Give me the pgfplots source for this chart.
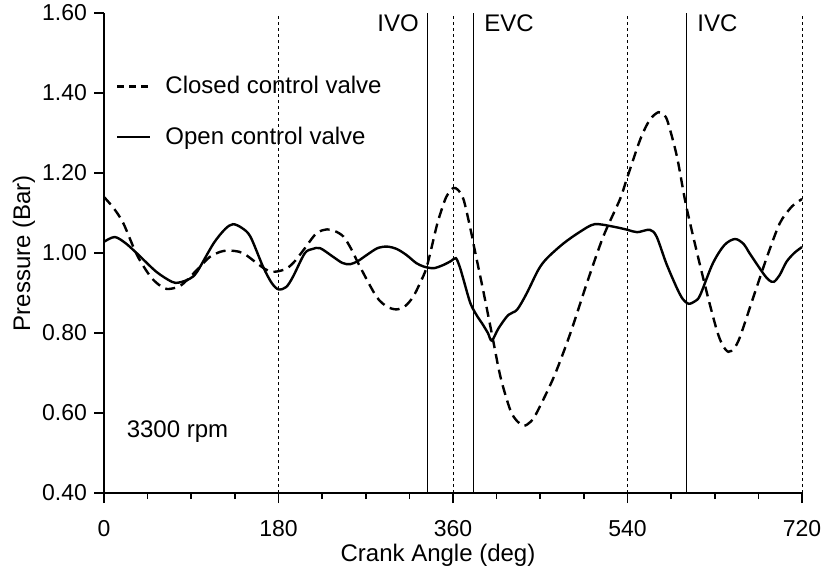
\documentclass[border=0pt]{standalone}
\usepackage{fontspec}
\setmainfont{Liberation Sans}
\usepackage{pgfplots}
\pgfplotsset{compat=1.18}
\begin{document}
\begin{tikzpicture}
\begin{axis}[
  scale only axis, width=349pt, height=240pt,
  xmin=0, xmax=720, ymin=0.4, ymax=1.6,
  axis x line*=bottom, axis y line*=left,
  axis line style={line width=0.9pt, -},
  xtick={0,180,360,540,720},
  minor xtick={45,90,135,225,270,315,405,450,495,585,630,675},
  ytick={0.4,0.6,0.8,1.0,1.2,1.4,1.6},
  tick align=outside, major tick length=5pt, minor tick length=3pt,
  every tick/.style={line width=0.8pt, black},
  /pgf/number format/assume math mode=true,
  tick label style={font=\fontsize{11.5}{13}\selectfont},
  yticklabel style={/pgf/number format/.cd, fixed, fixed zerofill, precision=2},
  xticklabel style={yshift=-5pt},
  xlabel={Crank Angle (deg)},
  ylabel={Pressure (Bar)},
  label style={font=\fontsize{12}{14}\selectfont},
  x label style={at={(axis description cs:0.4785,-0.142)}, anchor=base},
  y label style={at={(axis description cs:-0.1146,0.5)}, anchor=center},
  legend style={at={(axis description cs:0.017,0.794)}, anchor=west, draw=none, fill=none, inner sep=0pt, font=\fontsize{12}{14}\selectfont, row sep=11pt},
  legend cell align=left,
  legend image code/.code={\draw[#1] (0pt,0pt) -- (16.5pt,0pt); \path[draw=none] (0pt,0pt) -- (22pt,0pt);},
  clip=false,
]
\coordinate (sw) at (rel axis cs:0,0);
\coordinate (ne) at (rel axis cs:1,1);
% dotted TDC/BDC lines
\addplot[forget plot, black, line width=0.5pt, dash pattern=on 1.5pt off 1.5pt] coordinates {(180,0.4) (180,1.6)};
\addplot[forget plot, black, line width=0.5pt, dash pattern=on 1.5pt off 1.5pt] coordinates {(360,0.4) (360,1.6)};
\addplot[forget plot, black, line width=0.5pt, dash pattern=on 1.5pt off 1.5pt] coordinates {(540,0.4) (540,1.6)};
\addplot[forget plot, black, line width=0.5pt, dash pattern=on 1.5pt off 1.5pt] coordinates {(720,0.4) (720,1.6)};
% valve event lines
\addplot[forget plot, black, line width=0.6pt] coordinates {(334,0.4) (334,1.6)};
\addplot[forget plot, black, line width=0.6pt] coordinates {(381,0.4) (381,1.6)};
\addplot[forget plot, black, line width=0.6pt] coordinates {(601,0.4) (601,1.6)};
% closed control valve
\addplot[forget plot, black, line width=1.2pt, dash pattern=on 5pt off 3pt, smooth, tension=0.5] coordinates {
(0,1.140) (10,1.112) (20,1.074) (34,0.995) (48,0.941) (58,0.918) (65,0.910) (75,0.914) (82,0.924)
(96,0.958) (109,0.990) (120,1.003) (127,1.006) (135,1.005) (144,0.999) (158,0.974) (166,0.960)
(173,0.953) (181,0.955) (189,0.962) (197,0.980) (206,1.008) (219,1.049) (230,1.059) (238,1.055)
(247,1.041) (255,1.010) (264,0.966) (281,0.891) (292,0.866) (302,0.859) (311,0.868) (319,0.891)
(326,0.925) (333,0.966) (343,1.066) (347,1.099) (353,1.140) (360,1.162) (365,1.158) (371,1.133)
(379,1.049) (381,1.024) (391,0.908) (400,0.799) (409,0.690) (419,0.608) (426,0.580) (433,0.568)
(440,0.578) (446,0.599) (464,0.690) (481,0.799) (498,0.924) (515,1.041) (532,1.133) (539,1.183)
(553,1.283) (563,1.333) (572,1.352) (578,1.345) (582,1.324) (591,1.241) (600,1.124) (611,1.008)
(622,0.899) (632,0.808) (638,0.770) (644,0.753) (650,0.762) (656,0.790) (670,0.891) (684,0.991)
(697,1.074) (708,1.112) (714,1.125) (720,1.135)};
% open control valve
\addplot[forget plot, black, line width=1.2pt, smooth, tension=0.5] coordinates {
(0,1.028) (11,1.040) (22,1.025) (34,0.999) (54,0.953) (70,0.928) (77,0.926) (88,0.935) (96,0.953)
(113,1.024) (125,1.060) (133,1.072) (142,1.063) (151,1.041) (164,0.966) (173,0.925) (180,0.909)
(188,0.915) (195,0.941) (207,0.999) (215,1.010) (223,1.012) (236,0.991) (246,0.975) (254,0.972)
(262,0.980) (271,0.995) (282,1.012) (292,1.016) (302,1.010) (312,0.995) (322,0.975) (330,0.966)
(340,0.962) (350,0.970) (358,0.980) (363,0.987) (367,0.965) (371,0.932) (378,0.874) (385,0.842)
(390,0.824) (396,0.800) (400,0.781) (407,0.812) (417,0.845) (426,0.858) (436,0.899) (448,0.958)
(457,0.987) (474,1.024) (491,1.053) (506,1.072) (525,1.066) (540,1.058) (550,1.052) (563,1.058)
(570,1.041) (580,0.974) (591,0.912) (597,0.885) (603,0.873) (610,0.880) (615,0.895) (628,0.974)
(640,1.020) (651,1.035) (660,1.022) (666,0.999) (680,0.949) (686,0.932) (691,0.928) (697,0.945)
(704,0.978) (712,1.000) (720,1.015)};
\addlegendimage{black, line width=1.2pt, dash pattern=on 3.5pt off 2.5pt}
\addlegendentry{Closed control valve}
\addlegendimage{black, line width=1.2pt}
\addlegendentry{Open control valve}
\node[font=\fontsize{12}{14}\selectfont] at (axis cs:303.3,1.574) {IVO};
\node[font=\fontsize{12}{14}\selectfont] at (axis cs:417.8,1.574) {EVC};
\node[font=\fontsize{12}{14}\selectfont] at (axis cs:632.8,1.574) {IVC};
\node[font=\fontsize{12}{14}\selectfont] at (axis cs:75.8,0.5525) {3300 rpm};
\end{axis}
\pgfresetboundingbox
\path ([xshift=-52pt,yshift=-42pt]sw) rectangle ([xshift=13.5pt,yshift=6.5pt]ne);
\end{tikzpicture}
\end{document}
